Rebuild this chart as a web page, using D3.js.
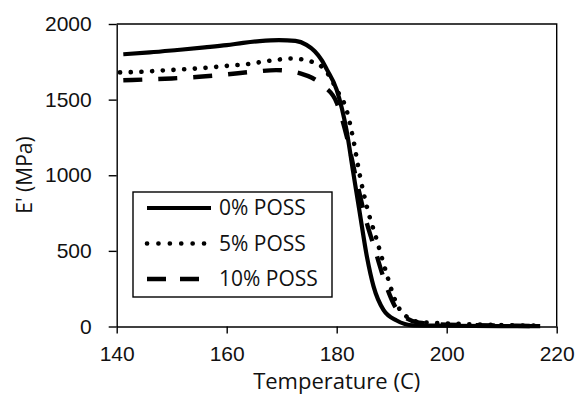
<!DOCTYPE html>
<html>
<head>
<meta charset="utf-8">
<script src="https://cdn.jsdelivr.net/npm/d3@7"></script>
<style>
  body { margin: 0; background: #fff; }
  svg { display: block; font-family: 'Open Sans', sans-serif; }
  .axis path, .axis line { stroke: #000; stroke-width: 1.4; }
  .axis text { font-size: 21px; fill: #111; }
</style>
</head>
<body>
<div class="chart"></div>
<script>
// E' (MPa) vs temperature
const temp0 = [141.2, 146, 151, 156, 160, 163, 166, 169.5, 172.5, 174.5, 176, 177.3, 178.2, 180, 181.8, 183, 184.2, 185.5, 186.7, 188.5, 190.9, 193.9, 200, 210, 217];
const mod0 = [1800, 1812, 1828, 1845, 1860, 1875, 1887, 1894, 1888, 1862, 1820, 1760, 1700, 1565, 1295, 1020, 750, 460, 265, 110, 40, 8, 5, 3, 2];

const temp5 = [140.6, 144.5, 148.5, 152.4, 156.4, 160, 164, 167, 169.7, 171.5, 173.3, 175.5, 177.3, 178.6, 180, 181.8, 183, 184.2, 185.5, 187.3, 189.1, 190.9, 192.7, 195, 200, 205, 210, 217];
const mod5 = [1680, 1684, 1693, 1701, 1711, 1723, 1736, 1753, 1766, 1772, 1768, 1750, 1717, 1660, 1565, 1430, 1240, 1000, 790, 570, 345, 150, 65, 30, 20, 14, 9, 5];

const temp10 = [141.2, 145, 150, 155, 160, 165, 169, 171.5, 173.5, 175.5, 177.6, 180, 181.8, 183.6, 185.1, 187, 189.1, 190.5, 192.1, 195, 200, 210, 217];
const mod10 = [1628, 1633, 1640, 1651, 1667, 1685, 1695, 1688, 1672, 1645, 1590, 1480, 1260, 967, 735, 503, 260, 140, 70, 25, 12, 6, 3];

const xTicks = [140, 160, 180, 200, 220];
const yTicks = [0, 500, 1000, 1500, 2000];
const seriesNames = ['0% POSS', '5% POSS', '10% POSS'];

const chartWidth = 579, chartHeight = 395;
const plotLeft = 116.7, plotRight = 556.7, plotTop = 24, plotBottom = 326.5;

const svg = d3.select('div.chart').append('svg').attr('width', chartWidth).attr('height', chartHeight);

const x = d3.scaleLinear().domain([140, 220]).range([plotLeft, plotRight]);
const y = d3.scaleLinear().domain([0, 2000]).range([plotBottom, plotTop]);

// plot box (top and right edges)
svg.append('path')
    .attr('d', `M${plotLeft},${plotTop}H${plotRight}V${plotBottom}`)
    .attr('fill', 'none').attr('stroke', '#000').attr('stroke-width', 1.4);

svg.append('g').classed('axis', true)
    .attr('transform', `translate(${plotLeft},0)`)
    .call(d3.axisLeft(y).tickValues(yTicks).tickFormat(d3.format('d')).tickSize(8).tickSizeOuter(0).tickPadding(17));

svg.append('g').classed('axis', true)
    .attr('transform', `translate(0,${plotBottom})`)
    .call(d3.axisBottom(x).tickValues(xTicks).tickFormat(d3.format('d')).tickSize(7).tickSizeOuter(0).tickPadding(13));

svg.append('text')
    .attr('x', (plotLeft + plotRight) / 2).attr('y', 389)
    .attr('text-anchor', 'middle').attr('font-size', 22).attr('fill', '#111')
    .text('Temperature (C)');

svg.append('text')
    .attr('transform', 'translate(32,175) rotate(-90)')
    .attr('text-anchor', 'middle').attr('font-size', 21).attr('fill', '#111')
    .text("E' (MPa)");

const styles = [
    { dash: null, cap: 'butt', w: 4.2 },
    { dash: '0.1 10.6', cap: 'round', w: 4.6 },
    { dash: '19 16', cap: 'butt', w: 4.4 }
];

const line = d3.line().x(d => x(d[0])).y(d => y(d[1])).curve(d3.curveMonotoneX);
const series = [d3.zip(temp0, mod0), d3.zip(temp5, mod5), d3.zip(temp10, mod10)];

series.forEach((pts, i) => {
    svg.append('path')
        .datum(pts)
        .attr('d', line)
        .attr('fill', 'none')
        .attr('stroke', '#000')
        .attr('stroke-width', styles[i].w)
        .attr('stroke-linecap', styles[i].cap)
        .attr('stroke-dasharray', styles[i].dash);
});

// legend
const legend = svg.append('g').attr('transform', 'translate(133,192)');
legend.append('rect')
    .attr('width', 199).attr('height', 105)
    .attr('fill', '#fff').attr('stroke', '#000').attr('stroke-width', 1.4);

seriesNames.forEach((name, i) => {
    const ly = 16 + i * 35.5;
    legend.append('line')
        .attr('x1', 14).attr('x2', 78).attr('y1', ly).attr('y2', ly)
        .attr('stroke', '#000')
        .attr('stroke-width', styles[i].w)
        .attr('stroke-linecap', styles[i].cap)
        .attr('stroke-dasharray', i === 1 ? '0.1 11.3' : (i === 2 ? '19 14' : null));
    legend.append('text')
        .attr('x', 86).attr('y', ly).attr('dy', '0.35em')
        .attr('font-size', 21).attr('fill', '#111')
        .text(name);
});
</script>
</body>
</html>
